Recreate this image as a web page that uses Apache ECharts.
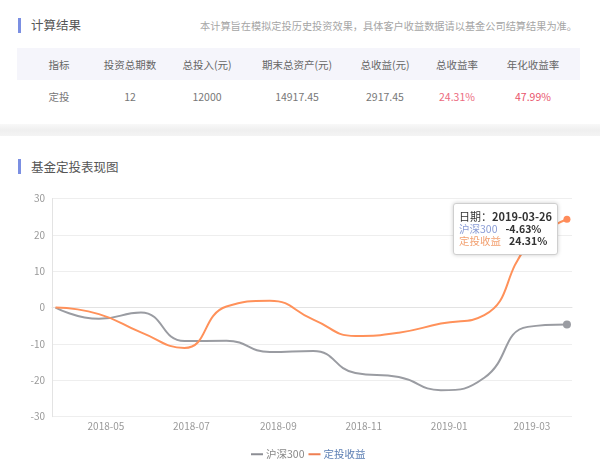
<!DOCTYPE html>
<html>
<head>
<meta charset="utf-8">
<script src="https://cdn.jsdelivr.net/npm/echarts@6/dist/echarts.min.js"></script>
<style>
  html, body { margin: 0; padding: 0; background: #fff; }
  body { width: 600px; height: 473px; position: relative; overflow: hidden;
         font-family: "Noto Sans CJK SC", "Noto Sans", sans-serif; }
  .bar { position: absolute; left: 18px; width: 3px; background: #7b8fe2; }
  .title { position: absolute; left: 31px; font-size: 12.5px; color: #555; line-height: 16px; white-space: nowrap; }
  .note { position: absolute; right: 23px; top: 19px; font-size: 10.2px; color: #a5a5a5; line-height: 14px; white-space: nowrap; }
  .thead { position: absolute; left: 17px; top: 48px; width: 563px; height: 32px; background: #f5f5fb; }
  .cell { position: absolute; width: 100px; margin-left: -50px; text-align: center; font-size: 10.5px; line-height: 14px; white-space: nowrap; }
  .h { top: 58px; color: #666; }
  .d { top: 90px; color: #777; }
  .sep { position: absolute; left: 0; top: 124px; width: 600px; height: 12px;
         background: linear-gradient(#f8f8f8, #efefef 50%, #f4f4f4); }
  #chart { position: absolute; left: 0; top: 0; width: 600px; height: 473px; }
</style>
</head>
<body>
<div class="bar" style="top:18px;height:15px;"></div>
<div class="title" style="top:17px;">计算结果</div>
<div class="note">本计算旨在模拟定投历史投资效果，具体客户收益数据请以基金公司结算结果为准。</div>
<div class="thead"></div>
<div id="cells"></div>
<div class="sep"></div>
<div class="bar" style="top:159px;height:15px;"></div>
<div class="title" style="top:159px;">基金定投表现图</div>
<div id="chart"></div>
<script>
// ---- table data ----
var tableHeaders = ['指标', '投资总期数', '总投入(元)', '期末总资产(元)', '总收益(元)', '总收益率', '年化收益率'];
var tableRow = ['定投', '12', '12000', '14917.45', '2917.45', '24.31%', '47.99%'];

// ---- chart data ----
var dates = ['2018-03-26', '2018-04-26', '2018-05-26', '2018-06-26', '2018-07-26', '2018-08-26',
             '2018-09-26', '2018-10-26', '2018-11-26', '2018-12-26', '2019-01-26', '2019-02-26', '2019-03-26'];
var hs300 = [0, -3.1, -1.35, -9.2, -9.1, -12.2, -11.9, -18.0, -19.1, -22.7, -19.3, -5.3, -4.63];
var dingtou = [0, -1.8, -6.8, -11.1, 0.3, 1.9, -3.3, -7.8, -6.9, -4.4, -2.1, 17.0, 24.31];
var seriesNames = ['沪深300', '定投收益'];
var yTicks = [-30, -20, -10, 0, 10, 20, 30];

// build table cells
(function () {
  var centers = [59, 130, 207, 297, 385, 457, 533];
  var html = '';
  for (var i = 0; i < tableHeaders.length; i++) {
    html += '<div class="cell h" style="left:' + centers[i] + 'px">' + tableHeaders[i] + '</div>';
    var col = '#777';
    if (i === 5) col = '#ec6b7e';
    if (i === 6) col = '#e9536b';
    html += '<div class="cell d" style="left:' + centers[i] + 'px;color:' + col + '">' + tableRow[i] + '</div>';
  }
  document.getElementById('cells').innerHTML = html;
})();

function ts(s) { var p = s.split('-'); return new Date(+p[0], +p[1] - 1, +p[2]).getTime(); }
var DAY = 86400000;
var lastIdx = dates.length - 1;
var s1 = dates.map(function (d, i) { return [ts(d), hs300[i]]; });
var s2 = dates.map(function (d, i) { return [ts(d), dingtou[i]]; });

var chart = echarts.init(document.getElementById('chart'), null, { renderer: 'canvas' });
chart.setOption({
  animation: false,
  backgroundColor: 'transparent',
  textStyle: { fontFamily: '"Noto Sans CJK SC", "Noto Sans", sans-serif' },
  grid: { left: 52, right: 28, top: 198.5, bottom: 473 - 416.7, containLabel: false },
  legend: {
    left: 246, top: 444, itemGap: 4, itemWidth: 12, itemHeight: 2,
    icon: 'rect',
    textStyle: { fontSize: 10.5, color: '#888', padding: [0, 0, 0, -2] },
    data: [
      { name: seriesNames[0], textStyle: { color: '#888' } },
      { name: seriesNames[1], textStyle: { color: '#5a7db3' } }
    ]
  },
  tooltip: {
    trigger: 'axis',
    triggerOn: 'none',
    alwaysShowContent: true,
    transitionDuration: 0,
    axisPointer: { type: 'none' },
    position: [453, 203],
    backgroundColor: '#fff',
    borderColor: '#cfcfcf',
    borderWidth: 1,
    padding: [6, 5],
    extraCssText: 'border-radius:3px;box-shadow:0 0 4px rgba(0,0,0,0.2);',
    formatter: function (params) {
      var d = new Date(params[0].value[0]);
      var mm = ('0' + (d.getMonth() + 1)).slice(-2), dd = ('0' + d.getDate()).slice(-2);
      var out = '<div style="font-size:11px;line-height:12.5px;color:#333;font-weight:bold;white-space:nowrap;">' +
        '<span style="font-weight:normal">日期：</span>' + d.getFullYear() + '-' + mm + '-' + dd + '</div>';
      var cols = ['#8a9cd6', '#f2a070'];
      params.forEach(function (p, i) {
        out += '<div style="font-size:10.5px;line-height:12.5px;white-space:nowrap;">' +
          '<span style="color:' + cols[i] + '">' + p.seriesName + '</span>' +
          '<span style="color:#333;font-weight:bold;margin-left:8px;">' + p.value[1].toFixed(2) + '%</span></div>';
      });
      return out;
    }
  },
  xAxis: {
    type: 'time',
    min: ts('2018-03-26') - 2.5 * DAY,
    max: ts('2019-03-26') + 3.6 * DAY,
    splitNumber: 5,
    axisLine: { show: true, lineStyle: { color: '#e3e3e3' } },
    axisTick: { show: false },
    splitLine: { show: false },
    axisLabel: {
      formatter: '{yyyy}-{MM}', color: '#999', fontSize: 10, margin: 5,
      showMinLabel: false, showMaxLabel: false
    }
  },
  yAxis: {
    type: 'value',
    min: yTicks[0], max: yTicks[yTicks.length - 1], interval: 10,
    axisLine: { show: true, lineStyle: { color: '#e3e3e3' } },
    axisTick: { show: false },
    splitLine: { lineStyle: { color: '#eeeeee' } },
    axisLabel: { color: '#999', fontSize: 10, margin: 7 }
  },
  series: [
    {
      name: seriesNames[0], type: 'line', smooth: true, data: s1,
      showSymbol: true, symbol: 'circle',
      symbolSize: function (v, p) { return p.dataIndex === lastIdx ? 8 : 0; },
      itemStyle: { color: '#8c8e94' },
      lineStyle: { color: '#8c8e94', width: 2 },
      emphasis: { scale: false, focus: 'none' }
    },
    {
      name: seriesNames[1], type: 'line', smooth: true, data: s2,
      showSymbol: true, symbol: 'circle',
      symbolSize: function (v, p) { return p.dataIndex === lastIdx ? 7 : 0; },
      itemStyle: { color: '#ef7f52' },
      lineStyle: { color: '#ef8452', width: 2 },
      emphasis: { scale: false, focus: 'none' }
    }
  ]
});
chart.dispatchAction({ type: 'showTip', seriesIndex: 0, dataIndex: lastIdx });
</script>
</body>
</html>
